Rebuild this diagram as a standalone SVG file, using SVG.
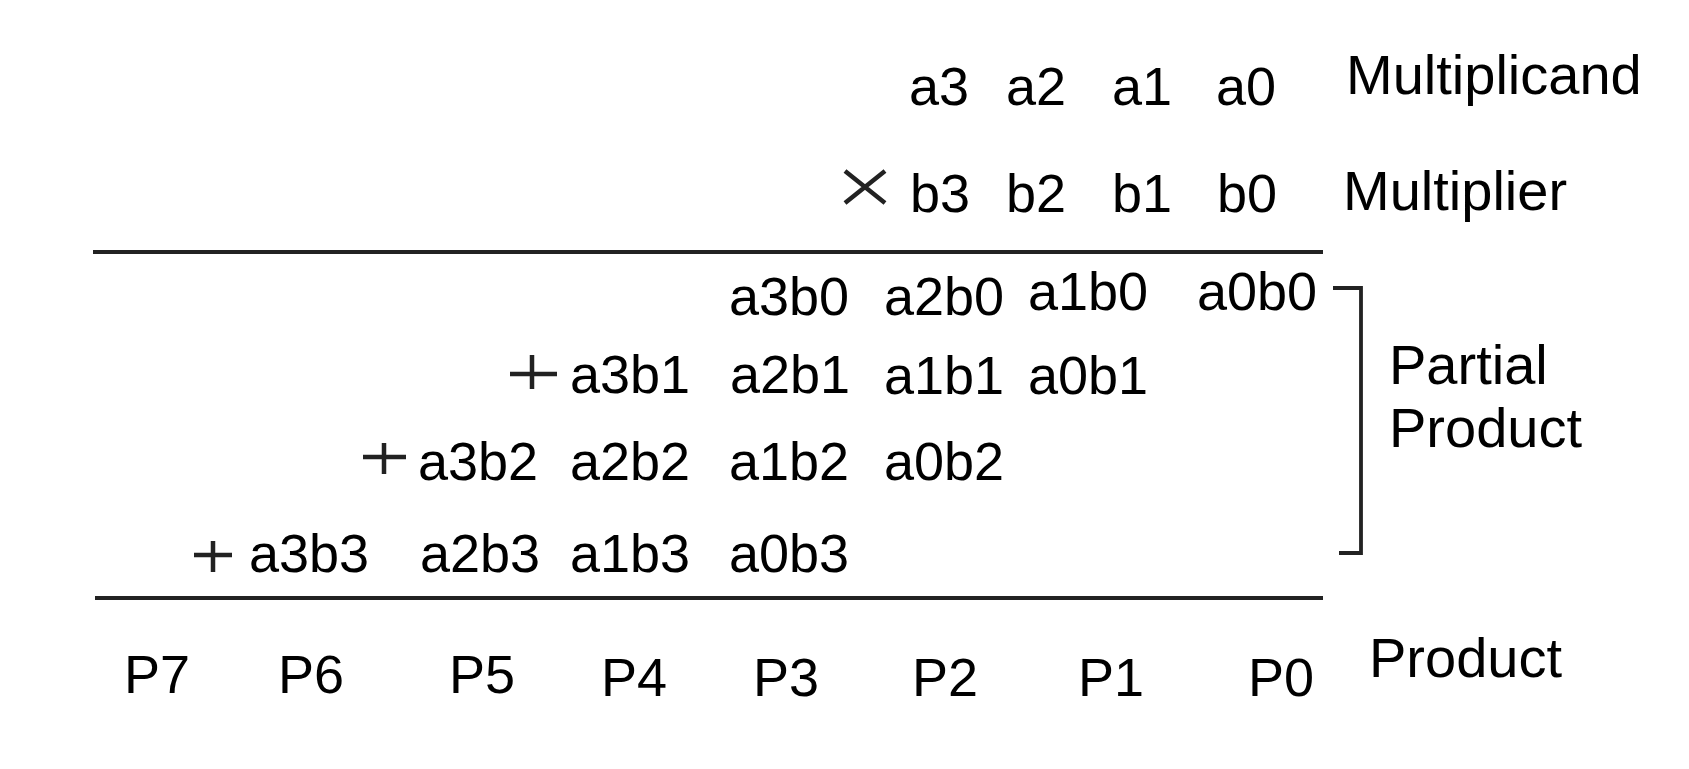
<svg xmlns="http://www.w3.org/2000/svg" width="1689" height="769" viewBox="0 0 1689 769">
<style>
text{font-family:"Liberation Sans",Arial,sans-serif;fill:#000;}
.e{font-size:54px;}
.l{font-size:56px;}
.ln{stroke:#222;stroke-width:3.8;fill:none;}
.op{stroke:#222;stroke-width:4.5;fill:none;}
</style>
<rect width="1689" height="769" fill="#fff"/>
<g id="multiplicand">
<text class="e" x="909" y="105">a3</text>
<text class="e" x="1006" y="105">a2</text>
<text class="e" x="1112" y="105">a1</text>
<text class="e" x="1216" y="105">a0</text>
<text class="l" x="1346" y="94">Multiplicand</text>
</g>
<g id="multiplier">
<path class="op" d="M845 171L885 203M885 171L845 203"/>
<text class="e" x="910" y="212">b3</text>
<text class="e" x="1006" y="212">b2</text>
<text class="e" x="1112" y="212">b1</text>
<text class="e" x="1217" y="212">b0</text>
<text class="l" x="1343" y="210">Multiplier</text>
</g>
<g id="partial-products">
<text class="e" x="729" y="315">a3b0</text>
<text class="e" x="884" y="315">a2b0</text>
<text class="e" x="1028" y="310">a1b0</text>
<text class="e" x="1197" y="310">a0b0</text>
<path class="op" d="M510 374H557M532 355V389"/>
<text class="e" x="570" y="393">a3b1</text>
<text class="e" x="730" y="393">a2b1</text>
<text class="e" x="884" y="394">a1b1</text>
<text class="e" x="1028" y="394">a0b1</text>
<path class="op" d="M363 457H406M384 443V474"/>
<text class="e" x="418" y="480">a3b2</text>
<text class="e" x="570" y="480">a2b2</text>
<text class="e" x="729" y="480">a1b2</text>
<text class="e" x="884" y="480">a0b2</text>
<path class="op" d="M194 555H232M213 541V572"/>
<text class="e" x="249" y="572">a3b3</text>
<text class="e" x="420" y="572">a2b3</text>
<text class="e" x="570" y="572">a1b3</text>
<text class="e" x="729" y="572">a0b3</text>
</g>
<g id="bracket">
<path class="ln" d="M1333 288H1361V553H1339"/>
<text class="l" x="1389" y="384">Partial</text>
<text class="l" x="1389" y="447">Product</text>
</g>
<g id="product">
<text class="e" x="124" y="693">P7</text>
<text class="e" x="278" y="693">P6</text>
<text class="e" x="449" y="693">P5</text>
<text class="e" x="601" y="696">P4</text>
<text class="e" x="753" y="696">P3</text>
<text class="e" x="912" y="696">P2</text>
<text class="e" x="1078" y="696">P1</text>
<text class="e" x="1248" y="696">P0</text>
<text class="l" x="1369" y="677">Product</text>
</g>
<g id="connectors">
<path class="ln" d="M93 252H1323"/>
<path class="ln" d="M95 598H1323"/>
</g>
</svg>
